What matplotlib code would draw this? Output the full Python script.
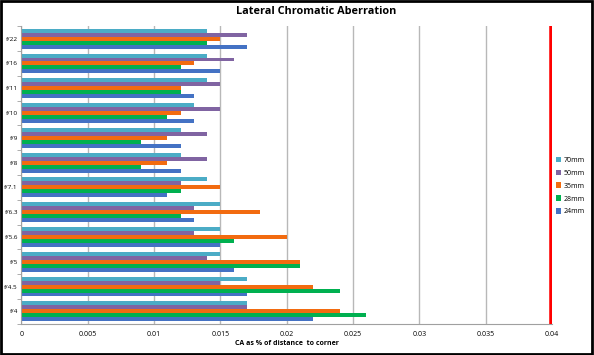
import numpy as np
import matplotlib
matplotlib.use('Agg')
import matplotlib.pyplot as plt
from matplotlib.patches import Rectangle

# f-stops, bottom to top
apertures = ['f/4', 'f/4.5', 'f/5', 'f/5.6', 'f/6.3', 'f/7.1', 'f/8', 'f/9', 'f/10', 'f/11', 'f/16', 'f/22']

# CA values per focal length (same order as apertures)
ca_24mm = [0.022, 0.017, 0.016, 0.015, 0.013, 0.011, 0.012, 0.012, 0.013, 0.013, 0.015, 0.017]
ca_28mm = [0.026, 0.024, 0.021, 0.016, 0.012, 0.012, 0.009, 0.009, 0.011, 0.012, 0.012, 0.014]
ca_35mm = [0.024, 0.022, 0.021, 0.020, 0.018, 0.015, 0.011, 0.011, 0.012, 0.012, 0.013, 0.015]
ca_50mm = [0.017, 0.015, 0.014, 0.013, 0.013, 0.012, 0.014, 0.014, 0.015, 0.015, 0.016, 0.017]
ca_70mm = [0.017, 0.017, 0.015, 0.015, 0.015, 0.014, 0.012, 0.012, 0.013, 0.014, 0.014, 0.014]

series_names = ['24mm', '28mm', '35mm', '50mm', '70mm']
series_vals = [ca_24mm, ca_28mm, ca_35mm, ca_50mm, ca_70mm]
colors = ['#4472C4', '#00B050', '#F26B10', '#8064A2', '#4BACC6']

limit = 0.04

plt.rcParams['font.family'] = ['Open Sans', 'DejaVu Sans']

fig = plt.figure(figsize=(5.94, 3.55), dpi=100)
ax = fig.add_axes([0.036, 0.088, 0.893, 0.838])

y = np.arange(len(apertures))
bh = 0.16
for k, (name, vals, c) in enumerate(zip(series_names, series_vals, colors)):
    ax.barh(y - 0.4 + bh * (k + 0.5), vals, height=bh, color=c, label=name, zorder=2)

# red limit line
ax.axvline(limit, color='#FF0000', lw=4, zorder=3)

ax.set_xlim(0, limit)
ax.set_ylim(-0.5, len(apertures) - 0.5)
ax.set_xticks(np.arange(0, 0.0401, 0.005))
ax.set_xticklabels(['0', '0.005', '0.01', '0.015', '0.02', '0.025', '0.03', '0.035', '0.04'])
ax.set_yticks(y)
ax.set_yticklabels(apertures)
ax.set_yticks(np.arange(-0.5, len(apertures)), minor=True)
ax.tick_params(axis='y', which='major', length=0, labelsize=4.6, pad=2.5)
ax.tick_params(axis='y', which='minor', length=3, color='#A0A0A0')
ax.tick_params(axis='x', length=0, labelsize=5, pad=5)
ax.grid(axis='x', color='#B8B8B8', lw=1, zorder=0)
for s in ['top', 'right']:
    ax.spines[s].set_visible(False)
ax.spines['left'].set_color('#A0A0A0')
ax.spines['bottom'].set_color('#A0A0A0')

ax.set_xlabel('CA as % of distance  to corner', fontsize=5, fontweight='bold', labelpad=1.5)
fig.text(0.532, 0.968, 'Lateral Chromatic Aberration', ha='center', va='center',
         fontsize=7.8, fontweight='bold')

h, l = ax.get_legend_handles_labels()
leg = fig.legend(h[::-1], l[::-1], loc='center left', bbox_to_anchor=(0.925, 0.476),
                 frameon=False, fontsize=5, handlelength=0.8, handleheight=0.8,
                 labelspacing=0.85, handletextpad=0.3)

# outer border
fig.patches.append(Rectangle((0.002, 0.003), 0.995, 0.993, transform=fig.transFigure,
                             fill=False, edgecolor='black', lw=2))

fig.savefig('out.png', dpi=100)
